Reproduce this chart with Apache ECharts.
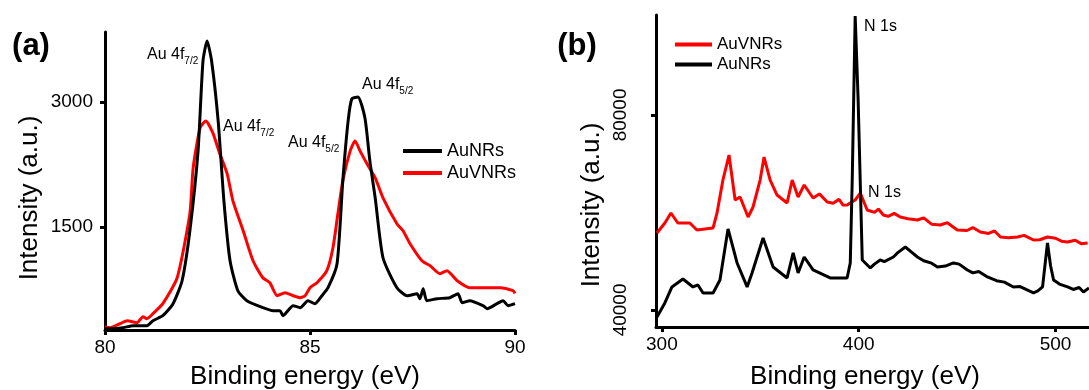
<!DOCTYPE html>
<html>
<head>
<meta charset="utf-8">
<script src="https://cdn.jsdelivr.net/npm/echarts@6/dist/echarts.min.js"></script>
<style>
    html, body { margin: 0; padding: 0; background: #fff; }
    #chart { width: 1089px; height: 390px; }
</style>
</head>
<body>
<div id="chart"></div>
<script>
// (a) Au 4f region
var aNrEnergy = [80.0, 80.12, 80.44, 80.68, 81.02, 81.17, 81.41, 81.66, 81.88, 82.07, 82.27, 82.39, 82.49, 82.6, 82.76, 82.9, 83.05, 83.24, 83.46, 83.85, 84.1, 84.27, 84.34, 84.59, 84.76, 84.95, 85.12, 85.29, 85.44, 85.66, 85.8, 85.93, 86.02, 86.17, 86.34, 86.46, 86.59, 86.78, 87.12, 87.37, 87.61, 87.68, 87.76, 87.85, 88.1, 88.41, 88.61, 88.71, 88.9, 89.22, 89.32, 89.56, 89.71, 89.83, 90.0];
var aNrIntensity = [276, 276, 288, 312, 312, 372, 432, 576, 852, 1452, 2412, 3492, 3732, 3492, 2772, 1812, 1092, 732, 612, 528, 492, 492, 432, 552, 528, 612, 576, 672, 768, 1056, 2052, 2772, 3036, 3060, 2808, 2292, 1848, 1128, 768, 672, 696, 636, 756, 612, 636, 648, 696, 588, 612, 552, 516, 576, 612, 552, 576];
var aVnrEnergy = [80.0, 80.12, 80.37, 80.54, 80.78, 80.93, 81.02, 81.17, 81.41, 81.76, 82.07, 82.15, 82.32, 82.46, 82.63, 82.8, 82.98, 83.12, 83.37, 83.61, 83.85, 84.02, 84.2, 84.39, 84.59, 84.76, 84.88, 85.0, 85.17, 85.41, 85.56, 85.68, 85.8, 85.98, 86.1, 86.22, 86.39, 86.59, 86.78, 87.12, 87.27, 87.44, 87.73, 87.93, 88.17, 88.34, 88.59, 88.9, 89.39, 89.63, 89.95, 90.0];
var aVnrIntensity = [300, 288, 336, 372, 348, 420, 396, 456, 576, 888, 1656, 2208, 2688, 2772, 2628, 2376, 2136, 1812, 1452, 1092, 888, 828, 672, 708, 672, 648, 672, 768, 828, 972, 1248, 1656, 2052, 2412, 2532, 2412, 2256, 2088, 1848, 1536, 1452, 1296, 1092, 1032, 936, 972, 852, 768, 768, 768, 732, 700];

// (b) survey around N 1s
var bNrEnergy = [297.5, 301.5, 305.1, 310.7, 315.8, 318.3, 320.9, 326.0, 329.5, 333.6, 338.2, 343.3, 345.8, 351.4, 356.5, 363.6, 366.7, 369.2, 372.3, 376.8, 385.5, 394.1, 395.7, 396.7, 398.2, 399.7, 401.8, 405.9, 408.0, 410.9, 413.0, 417.6, 420.0, 423.7, 427.0, 429.8, 433.0, 437.0, 440.0, 444.0, 448.1, 451.0, 455.2, 458.0, 461.0, 465.4, 470.0, 474.0, 478.6, 482.0, 485.0, 488.8, 491.0, 493.4, 495.9, 497.5, 499.0, 502.0, 506.1, 509.0, 512.0, 514.2, 517.0];
var bNrIntensity = [38565, 41435, 44715, 46355, 44715, 45125, 43485, 43485, 46150, 56605, 49635, 44715, 47585, 54760, 48815, 46560, 51685, 47585, 50865, 48200, 46560, 46560, 49635, 66650, 100300, 83050, 50250, 48610, 49400, 50250, 49900, 50865, 51800, 52915, 51800, 50865, 50100, 49600, 48815, 49000, 49635, 49400, 48200, 47600, 47900, 46765, 46000, 45700, 44715, 44800, 44200, 43485, 43900, 44715, 53735, 49000, 46150, 45300, 44715, 44200, 44600, 43690, 44510];
var bVnrEnergy = [297.5, 301.5, 304.6, 308.1, 314.2, 317.8, 326.0, 328.0, 331.0, 334.1, 337.2, 339.7, 343.8, 346.3, 349.9, 351.9, 355.0, 358.5, 363.6, 366.2, 369.2, 372.3, 376.8, 380.0, 384.0, 387.0, 390.0, 392.0, 394.1, 398.2, 400.8, 404.3, 408.0, 410.0, 412.5, 415.0, 418.0, 421.1, 425.0, 429.8, 433.0, 437.0, 441.5, 445.0, 450.1, 455.0, 458.0, 461.8, 466.0, 469.0, 472.0, 476.0, 480.7, 484.0, 488.8, 492.0, 495.9, 500.0, 503.0, 506.1, 510.0, 513.0, 516.3];
var bVnrIntensity = [55785, 57835, 59885, 57835, 57835, 56400, 56810, 59885, 66650, 71775, 62550, 63165, 59065, 61115, 66650, 71365, 66650, 63575, 61935, 66650, 63165, 65625, 62960, 63800, 62140, 61900, 62700, 61500, 61525, 62550, 63985, 60500, 60000, 60700, 59475, 59200, 59800, 59065, 58700, 58450, 58900, 57600, 57425, 57900, 56400, 56300, 56900, 55990, 55700, 56200, 54965, 54800, 54965, 55300, 54350, 54400, 54965, 54700, 54100, 53940, 54300, 53600, 53735];

var aXTicks = [80, 85, 90];
var aYTicks = [1500, 3000];
var bXTicks = [300, 400, 500];
var bYTicks = [40000, 80000];

function pairs(xs, ys) {
    return xs.map(function (x, i) { return [x, ys[i]]; });
}

var font = 'Liberation Sans, Arial, sans-serif';
var myChart = echarts.init(document.getElementById('chart'));

function axisCommon() {
    return {
        type: 'value',
        splitLine: { show: false },
        axisLine: { show: true, onZero: false, lineStyle: { color: '#000', width: 3 } },
        axisTick: { show: true, length: 5, lineStyle: { color: '#000', width: 3 } },
        axisLabel: {
            color: '#000', fontFamily: font, fontSize: 19,
            formatter: function (v) { return String(v); }
        }
    };
}

function xAxis(idx, min, max, ticks) {
    var ax = axisCommon();
    ax.gridIndex = idx;
    ax.min = min;
    ax.max = max;
    ax.axisTick.customValues = ticks;
    ax.axisLabel.customValues = ticks;
    ax.axisLabel.margin = 8;
    return ax;
}

function yAxis(idx, min, max, ticks, rotate, margin) {
    var ax = axisCommon();
    ax.gridIndex = idx;
    ax.min = min;
    ax.max = max;
    ax.axisTick.customValues = ticks;
    ax.axisLabel.customValues = ticks;
    ax.axisLabel.rotate = rotate;
    ax.axisLabel.margin = margin;
    return ax;
}

function line(name, color, xi, data, smooth) {
    return {
        name: name,
        type: 'line',
        xAxisIndex: xi,
        yAxisIndex: xi,
        data: data,
        showSymbol: false,
        symbol: 'none',
        smooth: smooth,
        lineStyle: { color: color, width: 3 },
        itemStyle: { color: color },
        z: name === 'AuNRs' ? 3 : 2
    };
}

function label(text, x, y, sub) {
    var rich = {
        m: { fontSize: 16, fontFamily: font, fill: '#000' },
        s: { fontSize: 10, fontFamily: font, fill: '#000', padding: [12, 0, 0, 0] }
    };
    return {
        type: 'text',
        x: x,
        y: y,
        style: {
            text: sub ? '{m|' + text + '}{s|' + sub + '}' : '{m|' + text + '}',
            rich: rich,
            verticalAlign: 'middle',
            align: 'left'
        }
    };
}

function title(text, x, y, rot) {
    return {
        type: 'text',
        x: x,
        y: y,
        rotation: rot || 0,
        style: {
            text: text,
            fontSize: 26,
            fontFamily: font,
            fill: '#000',
            align: 'center',
            verticalAlign: 'middle'
        }
    };
}

var option = {
    animation: false,
    backgroundColor: '#fff',
    grid: [
        { left: 105, top: 32, width: 410, height: 298 },
        { left: 656, top: 15, width: 433, height: 312 }
    ],
    xAxis: [
        xAxis(0, 80, 90, aXTicks),
        xAxis(1, 297, 517, bXTicks)
    ],
    yAxis: [
        yAxis(0, 260, 3840, aYTicks, 0, 12),
        yAxis(1, 36500, 100500, bYTicks, 90, 26)
    ],
    legend: [
        {
            left: 398, top: 137, orient: 'vertical',
            data: ['AuNRs', 'AuVNRs'],
            icon: 'rect', itemWidth: 39, itemHeight: 4, itemGap: 4,
            textStyle: { color: '#000', fontFamily: font, fontSize: 18 }
        },
        {
            left: 670, top: 31, orient: 'vertical',
            data: ['AuVNRs', 'AuNRs'],
            icon: 'rect', itemWidth: 37, itemHeight: 4, itemGap: 3,
            textStyle: { color: '#000', fontFamily: font, fontSize: 17 }
        }
    ],
    graphic: [
        { type: 'text', x: 31, y: 46, style: { text: '(a)', fontSize: 31, fontWeight: 'bold', fontFamily: font, fill: '#000', align: 'center', verticalAlign: 'middle' } },
        { type: 'text', x: 577, y: 46, style: { text: '(b)', fontSize: 31, fontWeight: 'bold', fontFamily: font, fill: '#000', align: 'center', verticalAlign: 'middle' } },
        title('Intensity (a.u.)', 30, 198, Math.PI / 2),
        title('Intensity (a.u.)', 592, 205, Math.PI / 2),
        title('Binding energy (eV)', 305, 377),
        title('Binding energy (eV)', 865, 377),
        label('Au 4f', 147, 55, '7/2'),
        label('Au 4f', 223, 127, '7/2'),
        label('Au 4f', 288, 143, '5/2'),
        label('Au 4f', 362, 85, '5/2'),
        label('N 1s', 864, 27),
        label('N 1s', 868, 193)
    ],
    series: [
        line('AuVNRs', '#ff0000', 0, pairs(aVnrEnergy, aVnrIntensity), 0.2),
        line('AuNRs', '#000000', 0, pairs(aNrEnergy, aNrIntensity), 0.2),
        line('AuVNRs', '#ff0000', 1, pairs(bVnrEnergy, bVnrIntensity), false),
        line('AuNRs', '#000000', 1, pairs(bNrEnergy, bNrIntensity), false)
    ]
};

myChart.setOption(option);
</script>
</body>
</html>
